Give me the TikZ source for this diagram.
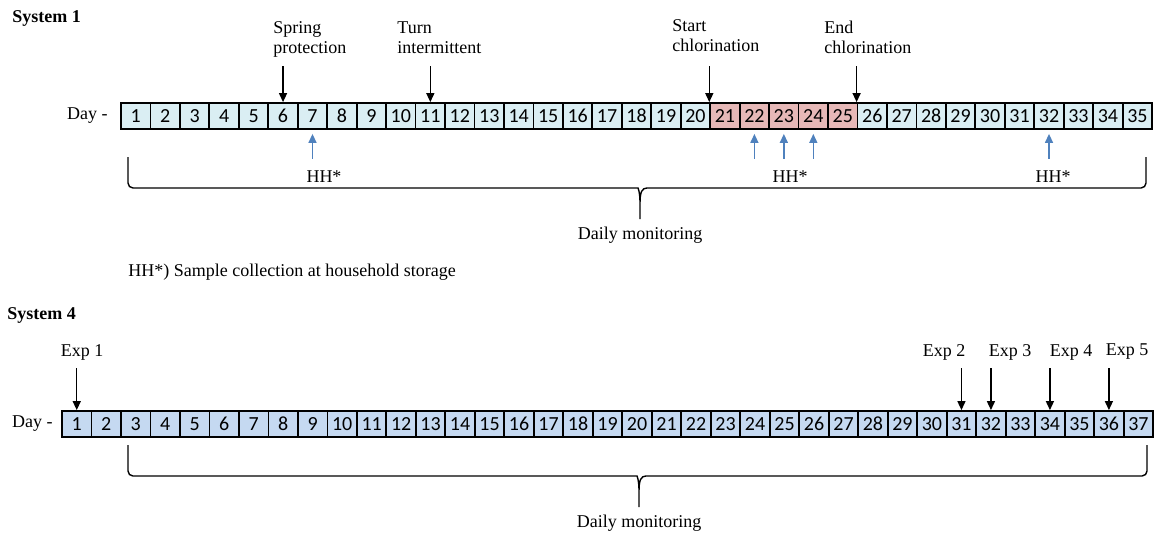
\documentclass[tikz,border=0pt]{standalone}
\usepackage{fontspec}
\setmainfont{Liberation Serif}
\newfontfamily\timesfont{Liberation Serif}
\newfontfamily\calibri{Carlito}
\usetikzlibrary{arrows.meta, positioning, calc}

\definecolor{plainday}{HTML}{DAEEF3}
\definecolor{chlorday}{HTML}{E6B8B7}
\definecolor{expday}{HTML}{C5D9F1}
\definecolor{hhblue}{HTML}{4F81BD}

\begin{document}
\begin{tikzpicture}[
    x=0.5pt, y=-0.5pt,
    daycell/.style={rectangle, draw, line width=0.9pt, minimum width=14.74pt, minimum height=13pt, inner sep=0pt, font=\calibri\fontsize{10}{12}\selectfont},
    lbl/.style={inner sep=1pt, font=\timesfont\fontsize{9}{10}\selectfont},
    eventlbl/.style={lbl, align=left, anchor=north west, inner sep=0pt},
    title/.style={lbl, font=\timesfont\bfseries\fontsize{9}{10}\selectfont, anchor=west},
    evarrow/.style={line width=0.7pt, -{Triangle[length=4.5pt,width=4pt]}},
    hharrow/.style={hhblue, line width=0.7pt, -{Triangle[length=4.5pt,width=4pt]}},
    bracepath/.style={line width=0.7pt}
]
\useasboundingbox (0,0) rectangle (1154,536);

% System 1
\node[title] (title1) at (10,18) {System 1};
\foreach \i in {1,...,35}{
  \ifnum\i>20 \ifnum\i<26 \def\dayfill{chlorday}\else\def\dayfill{plainday}\fi
  \else\def\dayfill{plainday}\fi
  \node[daycell, fill=\dayfill] (s1d\i) at ({121+(\i-0.5)*29.46},116) {\i};
}
\node[lbl, left=5pt of s1d1] (day1) {Day -};

\node[eventlbl] (spring) at (273,21) {Spring\\protection};
\node[eventlbl] (turn) at (397,21) {Turn\\intermittent};
\node[eventlbl] (startcl) at (672,19) {Start\\chlorination};
\node[eventlbl] (endcl) at (824,21) {End\\chlorination};

\draw[evarrow] ([yshift=18pt]s1d6.north) -- (s1d6.north);
\draw[evarrow] ([yshift=18pt]s1d11.north) -- (s1d11.north);
\draw[evarrow] ([yshift=18pt]s1d21.north west) -- (s1d21.north west);
\draw[evarrow] ([yshift=18pt]s1d26.north west) -- (s1d26.north west);

\foreach \d in {7,22,23,24,32}
  \draw[hharrow] ([yshift=-14.5pt]s1d\d.south) -- ([yshift=-2pt]s1d\d.south);

\node[lbl] (hh1) at (324,177) {HH*};
\node[lbl] (hh2) at (790,177) {HH*};
\node[lbl] (hh3) at (1053,177) {HH*};

\coordinate (tip1) at (640,219);
\draw[bracepath] (128,157) [rounded corners=2.5pt] -- (128,188) -- (633,188) [sharp corners]
  .. controls (638,188) and (640,192) .. (640,203) -- (tip1) -- (640,203)
  .. controls (640,192) and (642,188) .. (647,188) [rounded corners=2.5pt] -- (1146,188) -- (1146,157);
\node[lbl, below=3pt of tip1] (mon1) {Daily monitoring};

\node[lbl, anchor=west] (note) at (126,272) {HH*) Sample collection at household storage};

% System 4
\node[title] (title4) at (5,315) {System 4};
\foreach \i in {1,...,37}
  \node[daycell, fill=expday] (s4d\i) at ({62+(\i-0.5)*29.49},424) {\i};
\node[lbl, left=3pt of s4d1] (day4) {Day -};

\node[lbl] (exp1) at (82,352) {Exp 1};
\node[lbl] (exp2) at (944,352) {Exp 2};
\node[lbl] (exp3) at (1010,352) {Exp 3};
\node[lbl] (exp4) at (1071,352) {Exp 4};
\node[lbl] (exp5) at (1127,352) {Exp 5};

\foreach \d in {1,31,32,34,36}
  \draw[evarrow] ([yshift=21pt]s4d\d.north) -- (s4d\d.north);

\coordinate (tip4) at (639,507);
\draw[bracepath] (128,445) [rounded corners=2.5pt] -- (128,476) -- (632,476) [sharp corners]
  .. controls (637,476) and (639,480) .. (639,491) -- (tip4) -- (639,491)
  .. controls (639,480) and (641,476) .. (646,476) [rounded corners=2.5pt] -- (1147,476) -- (1147,445);
\node[lbl, below=3pt of tip4] (mon2) {Daily monitoring};

\end{tikzpicture}
\end{document}
